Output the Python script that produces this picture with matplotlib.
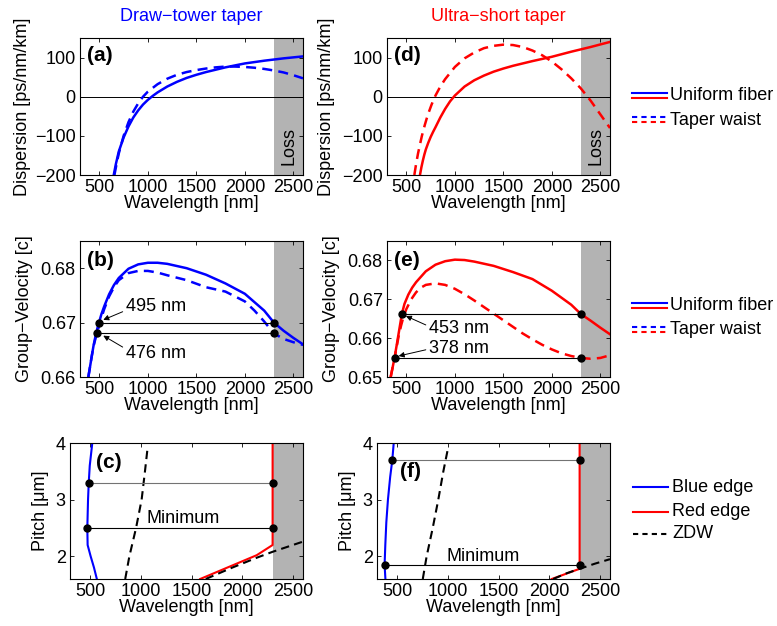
import matplotlib
matplotlib.use("Agg")
import matplotlib.pyplot as plt
from matplotlib.lines import Line2D

plt.rcParams['font.family'] = ['Liberation Sans', 'DejaVu Sans']
plt.rcParams['font.size'] = 13
plt.rcParams['xtick.direction'] = 'in'
plt.rcParams['ytick.direction'] = 'in'
plt.rcParams['xtick.top'] = True
plt.rcParams['ytick.right'] = True
plt.rcParams['axes.linewidth'] = 0.8

# ---- data ----
loss_start = 2300
wl_range = (300, 2600)
wl_ticks = [500, 1000, 1500, 2000, 2500]

# (a) dispersion, draw-tower taper
disp_a_uni_wl = [648, 670, 700, 750, 800, 850, 900, 950, 1000, 1050, 1100, 1200, 1300,
                 1400, 1500, 1600, 1800, 2000, 2200, 2400, 2600]
disp_a_uni = [-200, -172, -140, -104, -76, -53, -35, -20, -8, 2, 11, 26, 38,
              48, 56, 63, 75, 85, 92, 98, 103]
disp_a_tap_wl = [655, 680, 700, 750, 800, 850, 900, 950, 1000, 1100, 1200, 1300, 1400,
                 1500, 1600, 1700, 1800, 1900, 2000, 2100, 2200, 2300, 2400, 2500, 2600]
disp_a_tap = [-200, -168, -145, -100, -65, -38, -17, 0, 13, 32, 46, 56, 63,
              68, 72, 75, 77, 77, 76, 74, 71, 67, 62, 55, 47]

# (d) dispersion, ultra-short taper
disp_d_uni_wl = [640, 655, 670, 685, 700, 725, 750, 775, 800, 850, 900, 950, 1000, 1100,
                 1200, 1300, 1400, 1500, 1600, 1800, 2000, 2200, 2400, 2600]
disp_d_uni = [-200, -180, -163, -148, -135, -118, -103, -90, -78, -53, -31, -12, 3, 26,
              42, 54, 64, 72, 79, 91, 102, 115, 127, 140]
disp_d_tap_wl = [582, 600, 620, 640, 660, 690, 720, 760, 800, 850, 900, 1000, 1100, 1200,
                 1300, 1400, 1500, 1600, 1700, 1800, 1900, 2000, 2100, 2200, 2300, 2400,
                 2500, 2600]
disp_d_tap = [-200, -172, -145, -122, -100, -72, -47, -20, 3, 26, 45, 76, 98, 113,
              124, 130, 133, 132, 127, 118, 106, 90, 70, 47, 21, -10, -45, -80]

# (b) group velocity, draw-tower taper
gv_b_uni_wl = [386, 400, 420, 440, 460, 480, 496, 520, 550, 600, 650, 700, 800, 900, 1000,
               1100, 1200, 1400, 1600, 1800, 2000, 2200, 2300, 2400, 2500, 2600]
gv_b_uni = [0.6600, 0.6615, 0.6637, 0.6658, 0.6675, 0.6690, 0.6700, 0.6715, 0.6730, 0.6752,
            0.6769, 0.6782, 0.6799, 0.6807, 0.6810, 0.6810, 0.6808, 0.6800, 0.6788, 0.6772,
            0.6753, 0.6722, 0.6700, 0.6685, 0.6672, 0.6660]
gv_b_tap_wl = [386, 400, 420, 440, 460, 476, 500, 550, 600, 650, 700, 800, 900, 1000, 1100,
               1200, 1400, 1600, 1800, 2000, 2100, 2200, 2300, 2400, 2500, 2600]
gv_b_tap = [0.6600, 0.6615, 0.6637, 0.6657, 0.6671, 0.6680, 0.6697, 0.6725, 0.6748, 0.6765,
            0.6778, 0.6791, 0.6795, 0.6795, 0.6792, 0.6787, 0.6778, 0.6765, 0.6757, 0.6739,
            0.6722, 0.6702, 0.6680, 0.6670, 0.6664, 0.6659]
gv_b_match_v = [0.670, 0.668]
gv_b_match_blue = [496, 476]
gv_b_labels = ['495 nm', '476 nm']

# (e) group velocity, ultra-short taper
gv_e_uni_wl = [338, 360, 378, 400, 420, 440, 453, 480, 520, 560, 600, 700, 800, 900, 1000,
               1100, 1200, 1400, 1600, 1800, 2000, 2200, 2300, 2400, 2500, 2600]
gv_e_uni = [0.6500, 0.6527, 0.6550, 0.6582, 0.6612, 0.6642, 0.6662, 0.6688, 0.6712, 0.6730,
            0.6744, 0.6772, 0.6789, 0.6798, 0.6802, 0.6801, 0.6797, 0.6786, 0.6770, 0.6752,
            0.6722, 0.6686, 0.6662, 0.6645, 0.6627, 0.6610]
gv_e_tap_wl = [338, 360, 378, 400, 420, 445, 470, 500, 550, 600, 650, 700, 800, 900, 1000,
               1100, 1200, 1300, 1400, 1500, 1600, 1700, 1800, 1900, 2000, 2100, 2200, 2300,
               2400, 2500, 2600]
gv_e_tap = [0.6500, 0.6527, 0.6548, 0.6578, 0.6605, 0.6632, 0.6655, 0.6675, 0.6700, 0.6718,
            0.6730, 0.6737, 0.6741, 0.6737, 0.6727, 0.6713, 0.6697, 0.6680, 0.6663, 0.6646,
            0.6629, 0.6612, 0.6597, 0.6583, 0.6571, 0.6561, 0.6554, 0.6549, 0.6547, 0.6549,
            0.6556]
gv_e_match_v = [0.6662, 0.6548]
gv_e_match_blue = [453, 378]
gv_e_labels = ['453 nm', '378 nm']

# (c) pitch vs edges, draw-tower taper
pitch_c_blue = [1.6, 1.8, 2.0, 2.2, 2.5, 3.0, 3.3, 3.6, 4.0]
pitch_c_blue_wl = [565, 537, 504, 474, 471, 478, 485, 495, 520]
pitch_c_red = [1.6, 2.02, 2.2, 2.5, 3.3, 4.0]
pitch_c_red_wl = [1585, 2143, 2300, 2300, 2300, 2300]
pitch_c_zdw1 = [1.6, 2.0, 2.5, 3.0, 3.5, 3.9]
pitch_c_zdw1_wl = [845, 886, 952, 1007, 1040, 1065]
pitch_c_zdw2 = [1.6, 1.8, 1.98, 2.08, 2.26]
pitch_c_zdw2_wl = [1640, 1900, 2150, 2300, 2600]
pitch_c_marks = [3.3, 2.5]
pitch_c_marks_wl = [485, 471]

# (f) pitch vs edges, ultra-short taper
pitch_f_blue = [1.6, 1.85, 2.2, 2.6, 3.0, 3.4, 3.7, 4.0]
pitch_f_blue_wl = [383, 375, 382, 392, 408, 430, 451, 465]
pitch_f_red = [1.6, 1.78, 4.0]
pitch_f_red_wl = [2025, 2300, 2300]
pitch_f_zdw1 = [1.6, 2.0, 2.5, 3.0, 3.5, 3.9]
pitch_f_zdw1_wl = [752, 790, 850, 905, 955, 1000]
pitch_f_zdw2 = [1.6, 1.7, 1.78, 1.87, 1.95]
pitch_f_zdw2_wl = [2040, 2170, 2300, 2450, 2600]
pitch_f_marks = [3.7, 1.85]
pitch_f_marks_wl = [451, 378]

W, H = 777, 626
fig = plt.figure(figsize=(W / 100, H / 100), dpi=100)


def box(left, top, right, bottom):
    return [left / W, 1 - bottom / H, (right - left) / W, (bottom - top) / H]


ax_a = fig.add_axes(box(80, 38, 303, 175))
ax_d = fig.add_axes(box(387, 38, 610, 175))
ax_b = fig.add_axes(box(80, 241, 303, 377))
ax_e = fig.add_axes(box(387, 241, 610, 377))
ax_c = fig.add_axes(box(70, 443, 303, 579))
ax_f = fig.add_axes(box(377, 443, 610, 579))

loss_gray = '#b3b3b3'
for ax in (ax_a, ax_b, ax_c, ax_d, ax_e, ax_f):
    ax.axvspan(loss_start, wl_range[1], color=loss_gray, lw=0, zorder=0)
    ax.set_xlim(*wl_range)
    ax.set_xticks(wl_ticks)
    ax.set_xlabel('Wavelength [nm]', labelpad=-1)
    ax.tick_params(length=3, width=0.6, pad=3)

# dispersion panels
for ax, col, uwl, u, twl, t, lab in (
    (ax_a, 'blue', disp_a_uni_wl, disp_a_uni, disp_a_tap_wl, disp_a_tap, '(a)'),
    (ax_d, 'red', disp_d_uni_wl, disp_d_uni, disp_d_tap_wl, disp_d_tap, '(d)'),
):
    ax.axhline(0, color='black', lw=0.7, zorder=1)
    ax.plot(uwl, u, color=col, lw=1.8)
    ax.plot(twl, t, color=col, lw=1.8, ls=(0, (4, 2.5)))
    ax.set_ylim(-200, 150)
    ax.set_yticks([-200, -100, 0, 100])
    ax.set_ylabel('Dispersion [ps/nm/km]', va='center')
    ax.text(2455, -125, 'Loss', rotation=90, ha='center', va='center')
    ax.text(0.03, 0.87, lab, transform=ax.transAxes, fontweight='bold',
            ha='left', va='center', fontsize=15)
ax_a.yaxis.set_label_coords(-0.26, 0.5)
ax_d.yaxis.set_label_coords(-0.27, 0.5)
ax_a.set_title('Draw\u2212tower taper', color='blue', pad=12, fontsize=13)
ax_d.set_title('Ultra\u2212short taper', color='red', pad=12, fontsize=13)

# group-velocity panels
for ax, col, uwl, u, twl, t, mv, mb, labels, lab in (
    (ax_b, 'blue', gv_b_uni_wl, gv_b_uni, gv_b_tap_wl, gv_b_tap,
     gv_b_match_v, gv_b_match_blue, gv_b_labels, '(b)'),
    (ax_e, 'red', gv_e_uni_wl, gv_e_uni, gv_e_tap_wl, gv_e_tap,
     gv_e_match_v, gv_e_match_blue, gv_e_labels, '(e)'),
):
    ax.plot(uwl, u, color=col, lw=1.8)
    ax.plot(twl, t, color=col, lw=1.8, ls=(0, (4, 2.5)))
    for v, b in zip(mv, mb):
        ax.plot([b, loss_start], [v, v], color='black', lw=0.8, marker='o',
                ms=5, zorder=4)
    ax.set_ylabel('Group\u2212Velocity [c]', va='center')
    ax.yaxis.set_label_coords(-0.247, 0.5)
    ax.text(0.03, 0.86, lab, transform=ax.transAxes, fontweight='bold',
            ha='left', va='center', fontsize=15)

ax_b.set_ylim(0.66, 0.685)
ax_b.set_yticks([0.66, 0.67, 0.68])
ax_b.text(770, 0.6730, gv_b_labels[0], ha='left', va='center')
ax_b.text(770, 0.6644, gv_b_labels[1], ha='left', va='center')
arrow = dict(arrowstyle='-|>', color='black', lw=0.7, mutation_scale=8,
             shrinkA=0, shrinkB=0)
ax_b.annotate('', xy=(540, 0.6705), xytext=(740, 0.6720), arrowprops=arrow)
ax_b.annotate('', xy=(540, 0.6676), xytext=(740, 0.6655), arrowprops=arrow)

ax_e.set_ylim(0.65, 0.685)
ax_e.set_yticks([0.65, 0.66, 0.67, 0.68])
ax_e.text(735, 0.6624, gv_e_labels[0], ha='left', va='center')
ax_e.text(735, 0.6574, gv_e_labels[1], ha='left', va='center')
ax_e.annotate('', xy=(495, 0.6657), xytext=(700, 0.6634), arrowprops=arrow)
ax_e.annotate('', xy=(420, 0.6554), xytext=(700, 0.6570), arrowprops=arrow)

# pitch panels
for ax, bp, bwl, rp, rwl, z1p, z1wl, z2p, z2wl, mp, mwl, lab, lab_pos, min_pos in (
    (ax_c, pitch_c_blue, pitch_c_blue_wl, pitch_c_red, pitch_c_red_wl,
     pitch_c_zdw1, pitch_c_zdw1_wl, pitch_c_zdw2, pitch_c_zdw2_wl,
     pitch_c_marks, pitch_c_marks_wl, '(c)', (0.11, 0.86), (1420, 2.66)),
    (ax_f, pitch_f_blue, pitch_f_blue_wl, pitch_f_red, pitch_f_red_wl,
     pitch_f_zdw1, pitch_f_zdw1_wl, pitch_f_zdw2, pitch_f_zdw2_wl,
     pitch_f_marks, pitch_f_marks_wl, '(f)', (0.1, 0.79), (1350, 2.0)),
):
    ax.plot(bwl, bp, color='blue', lw=1.5)
    ax.plot(rwl, rp, color='red', lw=1.5)
    ax.plot(z1wl, z1p, color='black', lw=1.5, ls=(0, (4, 2.5)))
    ax.plot(z2wl, z2p, color='black', lw=1.5, ls=(0, (4, 2.5)))
    line_cols = ['0.45', 'black']
    for p, w, lc in zip(mp, mwl, line_cols):
        ax.plot([w, loss_start], [p, p], color=lc, lw=0.8, zorder=3)
        ax.plot([w, loss_start], [p, p], ls='none', marker='o', ms=5,
                color='black', zorder=4)
    ax.text(*min_pos, 'Minimum', ha='center', va='center')
    ax.set_ylim(1.6, 4)
    ax.set_yticks([2, 3, 4])
    ax.set_ylabel('Pitch [\u03bcm]', va='center')
    ax.yaxis.set_label_coords(-0.128, 0.5)
    ax.text(*lab_pos, lab, transform=ax.transAxes, fontweight='bold',
            ha='left', va='center', fontsize=15)

# legends drawn in figure pixels
def fig_line(x0, x1, y, color, ls='-'):
    fig.add_artist(Line2D([x0 / W, x1 / W], [1 - y / H, 1 - y / H],
                          color=color, lw=1.5, ls=ls))


def fig_label(x, y, s):
    fig.text(x / W, 1 - y / H, s, ha='left', va='center')


dash = (0, (2.5, 2))
for y0 in (93, 303):
    fig_line(632, 667, y0, 'blue')
    fig_line(632, 667, y0 + 5, 'red')
    fig_label(670, y0 + 2, 'Uniform fiber')
    fig_line(632, 667, y0 + 24, 'blue', dash)
    fig_line(632, 667, y0 + 29, 'red', dash)
    fig_label(670, y0 + 27, 'Taper waist')

fig_line(633, 668, 487, 'blue')
fig_label(672, 487, 'Blue edge')
fig_line(633, 668, 512, 'red')
fig_label(672, 512, 'Red edge')
fig_line(633, 668, 534, 'black', dash)
fig_label(672, 534, 'ZDW')

fig.savefig('out.png', dpi=100)
